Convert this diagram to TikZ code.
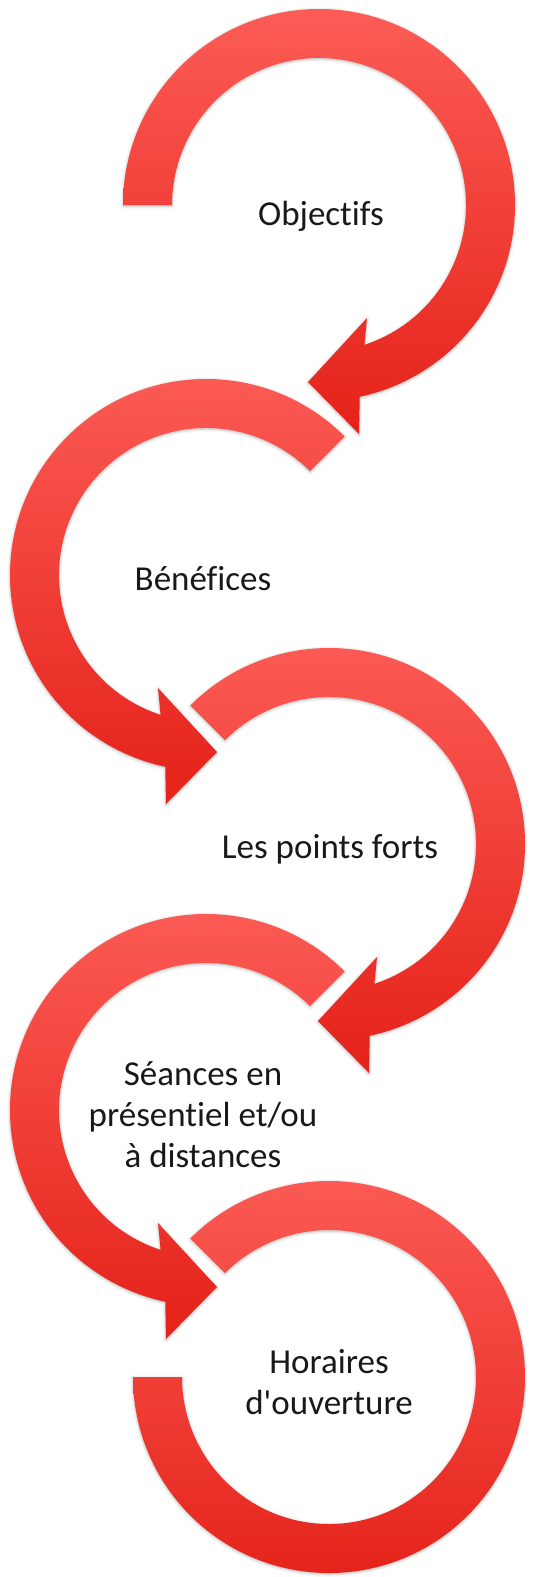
\documentclass[tikz,border=0pt]{standalone}
\usepackage{fontspec}
\setmainfont{Carlito}[Ligatures=NoCommon]
\usetikzlibrary{shadows.blur}
\definecolor{arcTop}{RGB}{252,92,86}
\definecolor{arcMid}{RGB}{255,46,36}
\definecolor{arcBot}{RGB}{228,34,25}
\tikzset{
  arcfill/.style={top color=arcTop, middle color=arcMid, bottom color=arcBot, draw=none,
    blur shadow={shadow xshift=0pt, shadow yshift=-1pt, shadow blur radius=3pt, shadow opacity=30}},
  lbl/.style={font=\fontsize{35}{41}\selectfont, align=center, inner sep=0pt, text=black!90}
}

\begin{document}
\begin{tikzpicture}[x=1pt, y=1pt]
\useasboundingbox (0,0) rectangle (537,-1577);
% arcs with a head
\foreach \cx/\cy/\s/\a in {319/205/1/180, 206/575/-1/135, 329/844/1/135, 206/1110/-1/135} {
 \begin{scope}[shift={(\cx,-\cy)}, xscale=\s]
  \path[arcfill] (\a:196) arc[start angle=\a, end angle=-78, radius=196]
   -- (40,-229) -- (-11,-177) -- (48,-113) -- (-72:147)
   arc[start angle=-72, end angle=\a, radius=147] -- cycle;
 \end{scope}
}
% last arc, no head
\path[arcfill] (329,-1377) ++(135:196) arc[start angle=135, end angle=-180, radius=196]
  -- ++(49,0) arc[start angle=-180, end angle=135, radius=147] -- cycle;

\node[lbl, anchor=base] (obj) at (321,-225) {Objectifs};
\node[lbl, anchor=base] (ben) at (203,-590) {Bénéfices};
\node[lbl, anchor=base] (forts) at (330,-858) {Les points forts};
\node[lbl] (seances) at (203,-1115) {Séances en\\présentiel et/ou\\à distances};
\node[lbl] (horaires) at (329,-1382) {Horaires\\d\textquotesingle ouverture};
\end{tikzpicture}
\end{document}
